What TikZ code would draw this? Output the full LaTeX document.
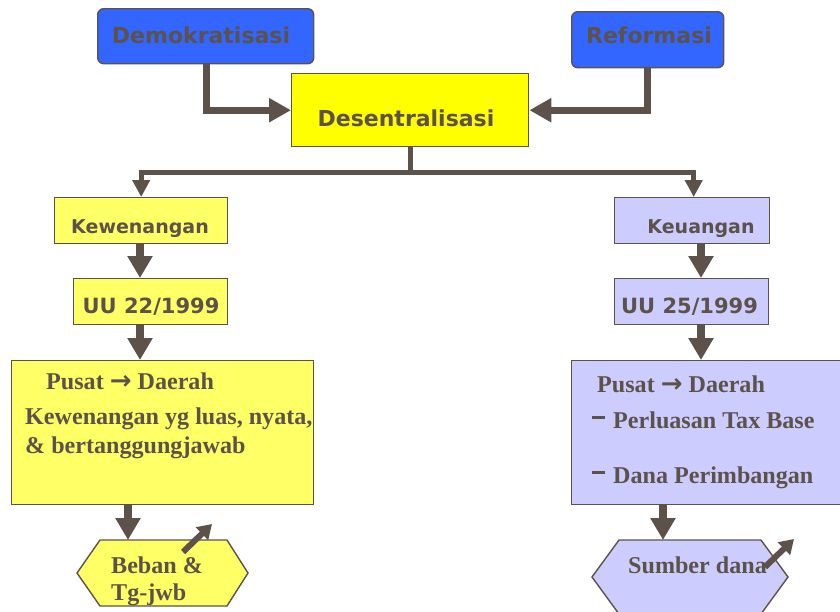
\documentclass[tikz,border=0pt]{standalone}
\usepackage{fontspec}
\setmainfont{Liberation Serif}
\newfontfamily\comic{DejaVu Sans}
\newfontfamily\arrfont{DejaVu Sans}
\usetikzlibrary{arrows.meta}
\definecolor{ink}{RGB}{92,82,74}
\definecolor{blueF}{HTML}{3366FF}
\definecolor{yelF}{HTML}{FFFF00}
\definecolor{ltyel}{HTML}{FFFF66}
\definecolor{lav}{HTML}{CCCCFF}
\tikzset{
  box/.style={draw=ink, line width=1.4pt, anchor=north west, inner sep=0pt},
  rbox/.style={box, rounded corners=6pt},
  lbl/.style={inner sep=0pt, text=ink},
  sansbig/.style={lbl, anchor=base, font=\comic\bfseries\fontsize{22}{26}\selectfont},
  sansmid/.style={lbl, anchor=base, font=\comic\bfseries\fontsize{19}{23}\selectfont},
  sansuu/.style={lbl, anchor=base, font=\comic\bfseries\fontsize{21}{25}\selectfont},
  serif/.style={lbl, anchor=base west, font=\bfseries\fontsize{24.1}{29}\selectfont},
  bigA/.style={draw=ink, line width=7pt, -{Triangle[width=23pt,length=22pt]}},
  branchA/.style={draw=ink, line width=5pt, -{Triangle[width=17pt,length=17pt]}},
  vA/.style={draw=ink, line width=8pt, -{Triangle[width=24pt,length=22pt]}},
  smallA/.style={draw=ink, line width=6pt, -{Triangle[width=17pt,length=14pt]}},
  hexstyle/.style={draw=ink, line width=1.4pt},
}
\newcommand{\pdarrow}{{\arrfont\bfseries\fontsize{26}{29}\selectfont →}}
\begin{document}
\begin{tikzpicture}[x=1pt,y=-1pt]
\useasboundingbox (0,0) rectangle (840,611);
\clip (0,0) rectangle (840,611);

% boxes
\node[rbox, fill=blueF, minimum width=216pt, minimum height=55pt] (demo) at (97,8) {};
\node[box, fill=yelF, minimum width=237pt, minimum height=73pt] (desen) at (291,73) {};
\node[rbox, fill=blueF, minimum width=152pt, minimum height=56pt] (reform) at (571,11) {};
\node[box, fill=ltyel, minimum width=173pt, minimum height=46pt] (kew) at (54,197) {};
\node[box, fill=ltyel, minimum width=154pt, minimum height=46pt] (uu22) at (73,278) {};
\node[box, fill=lav, minimum width=155pt, minimum height=46pt] (keu) at (614,197) {};
\node[box, fill=lav, minimum width=154pt, minimum height=46pt] (uu25) at (614,278) {};
\node[box, fill=ltyel, minimum width=302pt, minimum height=144pt] (bigL) at (11,360) {};
\node[box, fill=lav, minimum width=280pt, minimum height=144pt] (bigR) at (571,360) {};

% hexagons
\coordinate (hexLtop) at (128,540);
\coordinate (hexRtop) at (663,540);
\draw[hexstyle, fill=ltyel] (77,573) -- (100,540) -- (227,540) -- (248,573) -- (227,606) -- (100,606) -- cycle;
\draw[hexstyle, fill=lav] (592,577) -- (619,540) -- (761,540) -- (788,577) -- (761,614) -- (619,614) -- cycle;

% box texts
\node[sansbig] (tdemo) at (201,43) {Demokratisasi};
\node[sansbig] (tdesen) at (406,126) {Desentralisasi};
\node[sansbig] (treform) at (649,43) {Reformasi};
\node[sansmid] (tkew) at (140,233) {Kewenangan};
\node[sansuu] (tuu22) at (151,313) {UU 22/1999};
\node[sansmid] (tkeu) at (701,233) {Keuangan};
\node[sansuu] (tuu25) at (689.5,313) {UU 25/1999};

\node[serif] (pdL) at (46,389) {Pusat \pdarrow\ Daerah};
\node[serif] (kw1) at (25,424) {Kewenangan yg luas, nyata,};
\node[serif] (kw2) at (25,453) {\& bertanggungjawab};
\node[serif] (pdR) at (597,392) {Pusat \pdarrow\ Daerah};
\node[serif] (tax) at (613,428) {Perluasan Tax Base};
\node[serif] (dana) at (613,483) {Dana Perimbangan};
\draw[ink, line width=3pt] (592,417) -- (605,417);
\draw[ink, line width=3pt] (592,472) -- (605,472);
\node[serif] (beban1) at (111,573) {Beban \&};
\node[serif] (beban2) at (111,600) {Tg-jwb};
\node[serif] (sumber) at (628,573) {Sumber dana};

% connectors
\draw[bigA] ([xshift=1pt]demo.south) |- (desen.west);
\draw[bigA] (reform.south) |- (desen.east);
\coordinate (lvl) at (0,172);
\draw[branchA] (desen.south) -- (desen.south |- lvl) -| (kew.north);
\draw[branchA] (desen.south |- lvl) -| ([xshift=1.5pt]keu.north);

\coordinate (lx) at (140,0);
\coordinate (rx) at (701,0);
\draw[vA] (lx |- kew.south) -- (lx |- uu22.north);
\draw[vA] (lx |- uu22.south) -- (lx |- bigL.north);
\draw[vA] (rx |- keu.south) -- (rx |- uu25.north);
\draw[vA] (rx |- uu25.south) -- (rx |- bigR.north);
\draw[vA] (hexLtop |- bigL.south) -- (hexLtop);
\draw[vA] (hexRtop |- bigR.south) -- (hexRtop);

\coordinate (dL0) at (183,552);
\coordinate (dL1) at (212,524);
\coordinate (dR0) at (765,567);
\coordinate (dR1) at (794,539);
\draw[smallA] (dL0) -- (dL1);
\draw[smallA] (dR0) -- (dR1);
\end{tikzpicture}
\end{document}
